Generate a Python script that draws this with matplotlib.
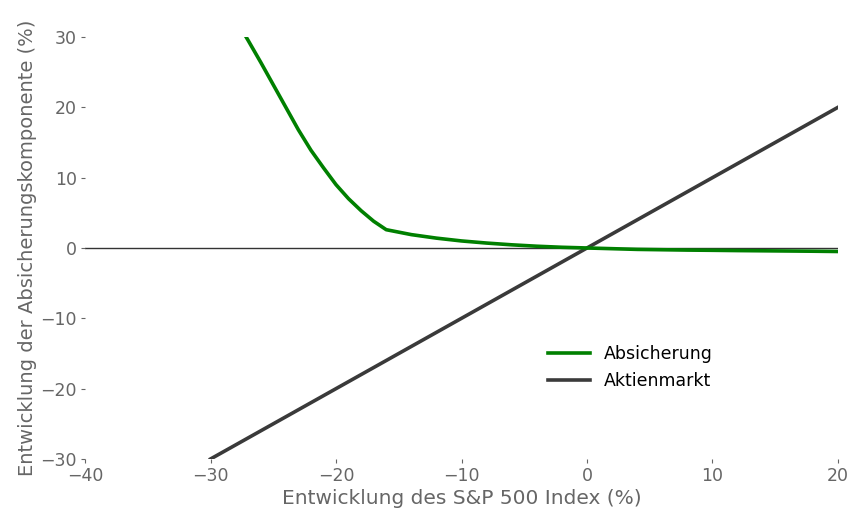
"""
Absicherungskomponente vs. S&P 500 Entwicklung
"""

import matplotlib
matplotlib.use("Agg")
import matplotlib.pyplot as plt

# Index-Entwicklung (%) und Entwicklung der Absicherung (%)
hedge_x = [-27.5, -27, -26, -25, -24, -23, -22, -21, -20, -19, -18, -17, -16,
           -14, -12, -10, -8, -6, -4, -2, 0, 2, 4, 6, 8, 10, 12, 14, 16, 18, 20]
hedge_y = [31.0, 29.5, 26.4, 23.2, 20.0, 16.8, 13.9, 11.4, 9.0, 7.0, 5.3, 3.8, 2.6,
           1.9, 1.4, 1.0, 0.7, 0.45, 0.25, 0.1, 0.0, -0.1, -0.2, -0.25, -0.3,
           -0.33, -0.37, -0.4, -0.43, -0.46, -0.5]

# Aktienmarkt: 1:1 zum Index
market_x = [-30, 20]
market_y = [-30, 20]

x_ticks = [-40, -30, -20, -10, 0, 10, 20]
y_ticks = [-30, -20, -10, 0, 10, 20, 30]

GREY = "#666666"

fig = plt.figure(figsize=(8.68, 5.08), dpi=100)
ax = fig.add_axes([0.098, 0.0965, 0.8674, 0.8307])

# Nulllinie
ax.plot([-40, 20], [0, 0], color="#333333", linewidth=1.0, zorder=1)

ax.plot(hedge_x, hedge_y, color="green", linewidth=2.6, label="Absicherung", zorder=3)
ax.plot(market_x, market_y, color="#3a3a3a", linewidth=2.6, label="Aktienmarkt", zorder=2)

ax.set_xlim(-40, 20)
ax.set_ylim(-30, 30)
ax.set_xticks(x_ticks)
ax.set_yticks(y_ticks)
ax.set_xticklabels([str(t).replace("-", "\u2212") for t in x_ticks])
ax.set_yticklabels([str(t).replace("-", "\u2212") for t in y_ticks])

for s in ax.spines.values():
    s.set_visible(False)

ax.tick_params(axis="both", colors=GREY, labelsize=12.5, length=3, width=0.8, pad=3)

ax.set_xlabel("Entwicklung des S&P 500 Index (%)", fontsize=14.5, color=GREY, labelpad=3)
ax.set_ylabel("Entwicklung der Absicherungskomponente (%)", fontsize=14, color=GREY, labelpad=2)

ax.legend(loc="center", bbox_to_anchor=(0.724, 0.216), frameon=False, fontsize=12.5,
          handlelength=2.4)

fig.savefig("out.png", dpi=100)
